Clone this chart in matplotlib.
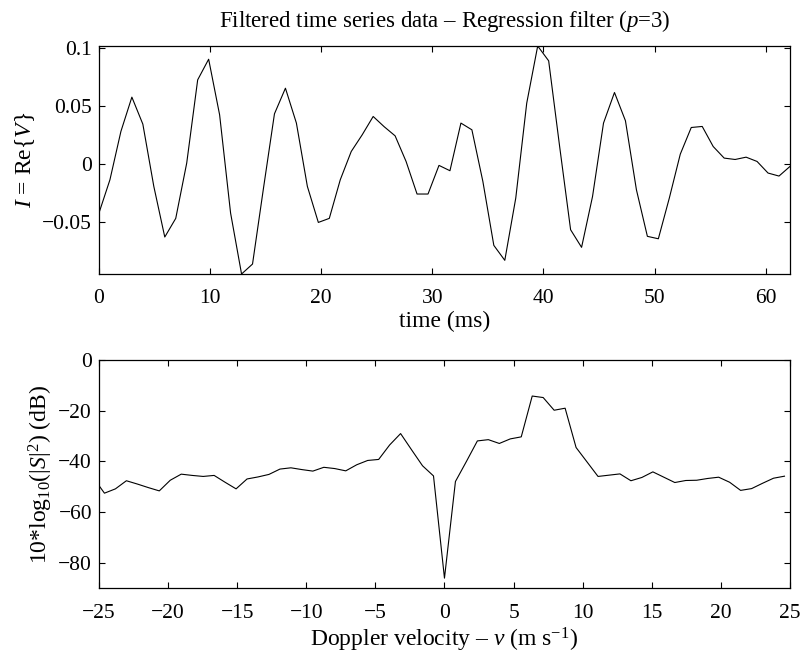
import numpy as np
import matplotlib
matplotlib.use('Agg')
import matplotlib.pyplot as plt

# sampling (64 pulses)
dt = 0.987          # ms
dv = 50.0 / 63.0    # m/s per Doppler bin

# filtered in-phase signal, I = Re{V}
i_signal = [-0.0425, -0.0138, 0.0279, 0.0575, 0.0342, -0.0195, -0.0632, -0.0471,
            0.0006, 0.0724, 0.0902, 0.0422, -0.0425, -0.0951, -0.0865, -0.0210,
            0.0431, 0.0652, 0.0351, -0.0195, -0.0506, -0.0471, -0.0138, 0.0106,
            0.0250, 0.0408, 0.0320, 0.0241, 0.0020, -0.0261, -0.0261, -0.0014,
            -0.0060, 0.0351, 0.0293, -0.0152, -0.0704, -0.0833, -0.0296, 0.0523,
            0.1016, 0.0888, 0.0149, -0.0569, -0.0721, -0.0282, 0.0351, 0.0615,
            0.0371, -0.0224, -0.0626, -0.0647, -0.0296, 0.0083, 0.0313, 0.0322,
            0.0149, 0.0049, 0.0037, 0.0057, 0.0020, -0.0080, -0.0106, -0.0023]

# power spectrum in dB
spec_db = [-46.5, -52.5, -50.8, -47.6, -48.9, -50.3, -51.6, -47.4,
           -45.0, -45.5, -45.9, -45.5, -48.2, -50.8, -46.9, -46.1,
           -45.1, -43.0, -42.5, -43.2, -43.8, -42.3, -42.8, -43.7,
           -41.3, -39.6, -39.2, -33.5, -29.0, -35.4, -41.7, -45.7,
           -86.0, -47.9, -40.0, -31.9, -31.4, -32.9, -31.1, -30.3,
           -14.2, -14.8, -19.8, -19.0, -34.5, -40.2, -45.9, -45.4,
           -44.9, -47.6, -46.3, -44.1, -46.2, -48.3, -47.5, -47.4,
           -46.7, -46.2, -48.2, -51.4, -50.7, -48.6, -46.6, -45.8]

t = np.arange(len(i_signal)) * dt
v = (np.arange(len(spec_db)) - 32) * dv

plt.rcParams['font.family'] = ['Liberation Serif', 'DejaVu Serif']
plt.rcParams['font.size'] = 15.5
plt.rcParams['mathtext.fontset'] = 'custom'
plt.rcParams['mathtext.rm'] = 'Liberation Serif'
plt.rcParams['mathtext.it'] = 'Liberation Serif:italic'
plt.rcParams['axes.linewidth'] = 0.9

tick_size = 15.5
label_size = 17


def matlab_style(ax):
    ax.tick_params(direction='in', top=True, right=True, length=4.5, width=0.8,
                   labelsize=tick_size)
    ax.tick_params(axis='x', pad=11)
    ax.tick_params(axis='y', pad=5)


fig = plt.figure(figsize=(8.02, 6.59), dpi=100)
ax1 = fig.add_axes([0.1234, 0.5842, 0.8616, 0.3460])
ax2 = fig.add_axes([0.1234, 0.1073, 0.8616, 0.3464])

ax1.plot(t, i_signal, color='k', linewidth=0.8)
ax1.set_xlim(t[0], t[-1])
ax1.set_ylim(min(i_signal), max(i_signal))
ax1.set_xticks([0, 10, 20, 30, 40, 50, 60])
ax1.set_yticks([-0.05, 0, 0.05, 0.1])
ax1.set_yticklabels(['\u22120.05', '0', '0.05', '0.1'])
ax1.set_xlabel('time (ms)', fontsize=label_size, labelpad=2)
ax1.set_ylabel('$I$ = Re{$V$}', fontsize=label_size, labelpad=4)
ax1.set_title('Filtered time series data \u2013 Regression filter ($p$=3)',
              fontsize=16.5, pad=14)
matlab_style(ax1)

ax2.plot(v, spec_db, color='k', linewidth=0.8)
ax2.set_xlim(-25, 25)
ax2.set_ylim(-90, 0)
ax2.set_xticks(np.arange(-25, 26, 5))
ax2.set_yticks([-80, -60, -40, -20, 0])
ax2.set_xlabel('Doppler velocity \u2013 $v$ (m s$^{-1}$)', fontsize=label_size, labelpad=2)
ax2.set_ylabel('10*log$_{10}$(|$S$|$^2$) (dB)', fontsize=label_size, labelpad=2)
matlab_style(ax2)

fig.savefig('out.png', dpi=100)
